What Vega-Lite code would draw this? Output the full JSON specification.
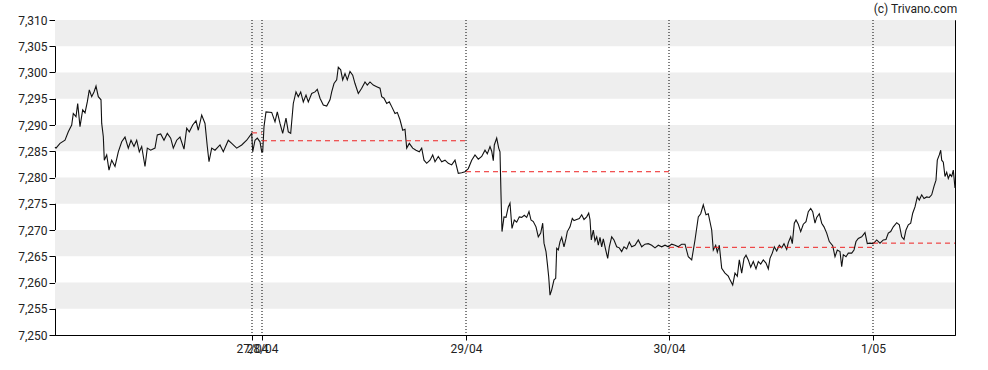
{
  "$schema": "https://vega.github.io/schema/vega-lite/v6.json",
  "width": 900,
  "height": 315,
  "autosize": {"type": "none"},
  "padding": {"left": 55, "top": 20, "right": 33, "bottom": 35},
  "background": "white",
  "config": {
    "view": {"stroke": "#000", "strokeWidth": 1},
    "font": "Roboto",
    "axis": {"labelFont": "Roboto", "labelFontSize": 12, "labelColor": "#222", "tickColor": "#000", "domainColor": "#000", "grid": false}
  },
  "title": {"text": "(c) Trivano.com", "anchor": "end", "fontSize": 12, "fontWeight": "normal", "color": "#222", "font": "Roboto", "offset": -2},
  "datasets": {
    "bands": [
      {"lo": 7305, "hi": 7310}, {"lo": 7295, "hi": 7300}, {"lo": 7285, "hi": 7290},
      {"lo": 7275, "hi": 7280}, {"lo": 7265, "hi": 7270}, {"lo": 7255, "hi": 7260}
    ],
    "days": [{"t": 197}, {"t": 207}, {"t": 411}, {"t": 614}, {"t": 818}],
    "prev": [
      {"t": 197, "t2": 207, "p": 7288.5},
      {"t": 207, "t2": 411, "p": 7287.0},
      {"t": 411, "t2": 614, "p": 7281.1},
      {"t": 614, "t2": 818, "p": 7266.7},
      {"t": 818, "t2": 900, "p": 7267.5}
    ],
    "price": [
      {"t":0,"p":7285.8},{"t":1,"p":7285.6},{"t":5,"p":7286.5},{"t":10,"p":7287.1},{"t":13.3,"p":7288.7},{"t":16.7,"p":7290},{"t":18.3,"p":7292.2},{"t":21,"p":7291.6},{"t":22.7,"p":7294.1},{"t":25,"p":7289.7},{"t":27.7,"p":7292.9},{"t":30,"p":7292.3},{"t":32.3,"p":7294.4},{"t":34.3,"p":7296.7},{"t":36.7,"p":7295.4},{"t":39,"p":7296.3},{"t":41,"p":7297.4},{"t":43.3,"p":7295.4},{"t":46,"p":7294.8},{"t":46.7,"p":7290.3},{"t":48.3,"p":7287.8},{"t":49.3,"p":7283.3},{"t":51.7,"p":7284.3},{"t":54,"p":7281.4},{"t":56.7,"p":7283.3},{"t":60,"p":7282.1},{"t":63.3,"p":7284.9},{"t":66.7,"p":7286.8},{"t":70,"p":7287.7},{"t":73.3,"p":7285.6},{"t":76,"p":7287.1},{"t":79,"p":7285.9},{"t":81.7,"p":7287.1},{"t":84.3,"p":7284.9},{"t":86.7,"p":7285.9},{"t":90,"p":7282.1},{"t":92.3,"p":7285.6},{"t":95.7,"p":7285.2},{"t":100,"p":7285.6},{"t":102.3,"p":7288.1},{"t":105.7,"p":7288.3},{"t":109,"p":7287.1},{"t":112.3,"p":7288.4},{"t":115.7,"p":7287.5},{"t":118.3,"p":7285.6},{"t":121.7,"p":7287.1},{"t":125,"p":7287.7},{"t":129,"p":7285.4},{"t":131.7,"p":7289.4},{"t":134.3,"p":7288.7},{"t":137.7,"p":7290},{"t":141,"p":7290.8},{"t":143.3,"p":7289},{"t":146.7,"p":7291.9},{"t":150,"p":7290.3},{"t":152.3,"p":7285.9},{"t":154,"p":7283},{"t":156.7,"p":7285.6},{"t":160,"p":7285.2},{"t":165,"p":7286.2},{"t":168.3,"p":7284.9},{"t":173.3,"p":7287.1},{"t":176.7,"p":7286.5},{"t":181.7,"p":7285.6},{"t":186.7,"p":7286.2},{"t":191.7,"p":7287.1},{"t":196.7,"p":7288.4},{"t":197.7,"p":7284.9},{"t":200,"p":7287.1},{"t":202.3,"p":7287.5},{"t":205,"p":7286.8},{"t":206.7,"p":7284.9},{"t":207.7,"p":7284.9},{"t":209,"p":7289.7},{"t":211,"p":7292.5},{"t":216.7,"p":7292.4},{"t":220,"p":7290.6},{"t":222.3,"p":7292.5},{"t":225,"p":7290.3},{"t":227.7,"p":7288.4},{"t":231,"p":7291.3},{"t":233.3,"p":7288.7},{"t":235.7,"p":7288.4},{"t":238.3,"p":7294.1},{"t":241,"p":7296.3},{"t":243.3,"p":7295.4},{"t":245.7,"p":7296.3},{"t":248.3,"p":7294.4},{"t":251,"p":7295.7},{"t":253.3,"p":7294.4},{"t":256.7,"p":7296},{"t":260,"p":7296.3},{"t":262.3,"p":7296.8},{"t":265,"p":7295.1},{"t":268.3,"p":7293.8},{"t":271.7,"p":7293.6},{"t":275,"p":7294.8},{"t":276.7,"p":7296.3},{"t":279,"p":7297.9},{"t":281.7,"p":7298.6},{"t":283.3,"p":7301},{"t":285.7,"p":7300.5},{"t":287.7,"p":7298.6},{"t":290,"p":7299.8},{"t":292.3,"p":7298.6},{"t":295,"p":7300.2},{"t":297.7,"p":7299.5},{"t":300,"p":7297.9},{"t":303.3,"p":7296},{"t":306.7,"p":7297},{"t":310,"p":7298.2},{"t":312.3,"p":7297.6},{"t":315,"p":7298.2},{"t":318.3,"p":7297.6},{"t":321.7,"p":7297.3},{"t":325,"p":7297},{"t":326.7,"p":7295.4},{"t":329,"p":7295.1},{"t":331.7,"p":7294.1},{"t":334.3,"p":7294.4},{"t":336.7,"p":7293.5},{"t":340,"p":7292.2},{"t":342.3,"p":7292.4},{"t":345,"p":7291},{"t":347.7,"p":7289},{"t":350,"p":7289.2},{"t":351.7,"p":7285.6},{"t":354.3,"p":7286.5},{"t":357.7,"p":7285.6},{"t":361,"p":7285.2},{"t":364.3,"p":7284.9},{"t":366.7,"p":7285.6},{"t":369,"p":7283.3},{"t":371.7,"p":7282.7},{"t":375,"p":7283.3},{"t":377.7,"p":7284.3},{"t":380,"p":7283},{"t":383.3,"p":7284},{"t":386.7,"p":7283},{"t":390,"p":7283.3},{"t":393.3,"p":7282.7},{"t":396.7,"p":7282.4},{"t":400,"p":7283.3},{"t":403.3,"p":7280.8},{"t":406.7,"p":7280.9},{"t":410,"p":7281.1},{"t":413.3,"p":7281.7},{"t":416.7,"p":7283.3},{"t":420,"p":7284.3},{"t":423.3,"p":7283.5},{"t":426.7,"p":7284},{"t":430,"p":7285.2},{"t":432.3,"p":7284.5},{"t":435,"p":7285.9},{"t":436.7,"p":7285},{"t":438.3,"p":7283.2},{"t":439.3,"p":7286.2},{"t":441.7,"p":7287.5},{"t":443.7,"p":7285.6},{"t":445,"p":7284.9},{"t":446,"p":7276.7},{"t":447,"p":7269.7},{"t":449,"p":7272.5},{"t":451,"p":7272.4},{"t":453.3,"p":7274.4},{"t":455,"p":7275.1},{"t":457,"p":7270.3},{"t":459.3,"p":7271.9},{"t":461.7,"p":7271.5},{"t":464.3,"p":7272.5},{"t":466.7,"p":7272.4},{"t":469.3,"p":7272.8},{"t":471.7,"p":7272.4},{"t":474,"p":7273.5},{"t":476,"p":7271.9},{"t":478.3,"p":7271.6},{"t":481,"p":7270.6},{"t":483.3,"p":7268.7},{"t":485.7,"p":7269.4},{"t":487.7,"p":7271.3},{"t":489,"p":7267.5},{"t":491,"p":7265.9},{"t":492.3,"p":7263.7},{"t":493.7,"p":7261.1},{"t":495,"p":7257.6},{"t":496.7,"p":7258.6},{"t":499,"p":7260.5},{"t":500.7,"p":7260.8},{"t":501.7,"p":7266.5},{"t":503.3,"p":7266.2},{"t":505,"p":7267.8},{"t":506.7,"p":7268.6},{"t":509,"p":7266.8},{"t":511,"p":7268.4},{"t":512.3,"p":7269.7},{"t":515,"p":7270.6},{"t":517.3,"p":7272.2},{"t":519,"p":7271.8},{"t":521.7,"p":7272},{"t":524.3,"p":7272.2},{"t":526.7,"p":7272.9},{"t":529,"p":7272},{"t":531.7,"p":7272.5},{"t":533.7,"p":7273.2},{"t":535,"p":7272},{"t":536.3,"p":7268.1},{"t":538.3,"p":7270},{"t":540,"p":7267.9},{"t":541.7,"p":7268.7},{"t":543.3,"p":7267.1},{"t":545,"p":7268.6},{"t":546.7,"p":7266.8},{"t":548.3,"p":7268.3},{"t":550.7,"p":7266.2},{"t":552.7,"p":7264.6},{"t":554.3,"p":7266.8},{"t":556.7,"p":7268.7},{"t":559,"p":7268.1},{"t":561.7,"p":7266.8},{"t":564.3,"p":7266.6},{"t":566.7,"p":7265.9},{"t":569,"p":7266.8},{"t":571.7,"p":7266.4},{"t":574.3,"p":7267.7},{"t":576.7,"p":7266.8},{"t":580,"p":7267.1},{"t":583.3,"p":7268.1},{"t":586.7,"p":7266.8},{"t":590,"p":7267.3},{"t":593.3,"p":7267.4},{"t":596.7,"p":7267.1},{"t":600,"p":7266.6},{"t":603.3,"p":7267.1},{"t":606.7,"p":7266.8},{"t":610,"p":7267.1},{"t":613.3,"p":7266.8},{"t":616.7,"p":7267.3},{"t":620,"p":7267.1},{"t":623.3,"p":7266.8},{"t":626.7,"p":7267.3},{"t":630,"p":7267.3},{"t":633.3,"p":7264.9},{"t":636.7,"p":7264.3},{"t":640,"p":7268.1},{"t":643.3,"p":7272.5},{"t":645.7,"p":7273.1},{"t":648.3,"p":7274.8},{"t":651,"p":7272.9},{"t":653.3,"p":7273.1},{"t":656.7,"p":7270},{"t":658.3,"p":7266.2},{"t":660.7,"p":7267.1},{"t":662.3,"p":7265.8},{"t":664.3,"p":7267.1},{"t":666.7,"p":7262.7},{"t":670,"p":7261.8},{"t":673.3,"p":7261.2},{"t":675,"p":7260.5},{"t":677.7,"p":7259.5},{"t":680,"p":7261.8},{"t":682.3,"p":7261.2},{"t":684.3,"p":7264.3},{"t":686.7,"p":7261.8},{"t":689,"p":7264.6},{"t":691,"p":7265.2},{"t":693.3,"p":7264.3},{"t":695.7,"p":7262.9},{"t":698.3,"p":7264},{"t":701,"p":7262.6},{"t":703.3,"p":7264},{"t":705.7,"p":7263.5},{"t":708.3,"p":7264.3},{"t":711,"p":7263.7},{"t":713.3,"p":7262.6},{"t":715,"p":7264.6},{"t":717.3,"p":7265.6},{"t":719.3,"p":7266.8},{"t":721.7,"p":7266},{"t":724.3,"p":7267.1},{"t":726.7,"p":7266.6},{"t":729,"p":7267.4},{"t":731.7,"p":7266.3},{"t":733.3,"p":7267.6},{"t":735.7,"p":7268.7},{"t":737.3,"p":7267.4},{"t":739.3,"p":7271.3},{"t":741,"p":7271.9},{"t":743.3,"p":7271.1},{"t":745.7,"p":7269.7},{"t":748.3,"p":7271.1},{"t":751,"p":7271.6},{"t":753.3,"p":7273.5},{"t":755.7,"p":7274.1},{"t":757.7,"p":7273.5},{"t":760,"p":7271.3},{"t":761.7,"p":7272.4},{"t":764.3,"p":7273.1},{"t":766.7,"p":7271.3},{"t":769,"p":7270.6},{"t":771.7,"p":7269.4},{"t":774.3,"p":7267.8},{"t":777.7,"p":7267},{"t":780,"p":7264.9},{"t":782.3,"p":7266.2},{"t":785,"p":7265.9},{"t":786.7,"p":7263},{"t":788.3,"p":7265.3},{"t":791,"p":7264.9},{"t":793.3,"p":7265.6},{"t":796.7,"p":7265.6},{"t":799,"p":7266.2},{"t":801,"p":7267.8},{"t":803.3,"p":7268.4},{"t":806.7,"p":7268.7},{"t":810,"p":7269.5},{"t":812.3,"p":7267.4},{"t":815,"p":7267.5},{"t":818.3,"p":7267.4},{"t":821.7,"p":7268.1},{"t":825,"p":7267.5},{"t":828.3,"p":7268.1},{"t":831,"p":7268.2},{"t":833.3,"p":7269.4},{"t":835.7,"p":7269.7},{"t":838.3,"p":7270.6},{"t":841.7,"p":7271.4},{"t":844.3,"p":7271},{"t":846.7,"p":7268.7},{"t":849,"p":7268.2},{"t":851,"p":7270},{"t":853.3,"p":7271},{"t":855.7,"p":7271.3},{"t":857.7,"p":7273.2},{"t":860,"p":7274.4},{"t":862.3,"p":7276.3},{"t":864.3,"p":7275.7},{"t":866.7,"p":7276.7},{"t":869,"p":7276},{"t":871.7,"p":7276.3},{"t":874.3,"p":7276.2},{"t":876.7,"p":7276.7},{"t":879,"p":7278.3},{"t":881,"p":7279.5},{"t":882.3,"p":7283.3},{"t":884.3,"p":7284.3},{"t":885.7,"p":7285.2},{"t":886.7,"p":7283.3},{"t":888.3,"p":7282.9},{"t":890,"p":7280.2},{"t":891.7,"p":7281},{"t":893.3,"p":7279.8},{"t":895,"p":7280.6},{"t":896.7,"p":7280.2},{"t":898.3,"p":7281.4},{"t":900,"p":7278}
    ]
  },
  "layer": [
    {
      "data": {"name": "bands"},
      "mark": {"type": "rect", "fill": "#eeeeee"},
      "encoding": {
        "y": {"field": "lo", "type": "quantitative", "scale": {"domain": [7250, 7310], "nice": false, "zero": false},
          "axis": {"values": [7250, 7255, 7260, 7265, 7270, 7275, 7280, 7285, 7290, 7295, 7300, 7305, 7310], "format": ",d", "tickSize": 6, "labelPadding": 2, "labelOverlap": false, "title": null}},
        "y2": {"field": "hi"}
      }
    },
    {
      "data": {"name": "days"},
      "mark": {"type": "rule", "color": "#000", "strokeWidth": 1, "strokeDash": [1, 2]},
      "encoding": {
        "x": {"field": "t", "type": "quantitative", "scale": {"domain": [0, 900], "nice": false, "zero": false},
          "axis": {"values": [197, 207, 411, 614, 818], "labelExpr": "datum.value == 197 ? '27/04' : datum.value == 207 ? '28/04' : datum.value == 411 ? '29/04' : datum.value == 614 ? '30/04' : '1/05'", "labelOverlap": false, "tickSize": 5, "labelPadding": 3, "labelFlush": false, "title": null}}
      }
    },
    {
      "data": {"name": "price"},
      "mark": {"type": "line", "color": "#111", "strokeWidth": 1.1},
      "encoding": {
        "x": {"field": "t", "type": "quantitative",
          "axis": {"values": [197, 207, 411, 614, 818], "labelExpr": "datum.value == 197 ? '27/04' : datum.value == 207 ? '28/04' : datum.value == 411 ? '29/04' : datum.value == 614 ? '30/04' : '1/05'", "labelOverlap": false, "tickSize": 5, "labelPadding": 3, "labelFlush": false, "title": null}},
        "y": {"field": "p", "type": "quantitative",
          "axis": {"values": [7250, 7255, 7260, 7265, 7270, 7275, 7280, 7285, 7290, 7295, 7300, 7305, 7310], "format": ",d", "tickSize": 6, "labelPadding": 2, "labelOverlap": false, "title": null}}
      }
    },
    {
      "data": {"name": "prev"},
      "mark": {"type": "rule", "color": "#ee2222", "strokeWidth": 1, "strokeDash": [5, 4]},
      "encoding": {
        "x": {"field": "t", "type": "quantitative",
          "axis": {"values": [197, 207, 411, 614, 818], "labelExpr": "datum.value == 197 ? '27/04' : datum.value == 207 ? '28/04' : datum.value == 411 ? '29/04' : datum.value == 614 ? '30/04' : '1/05'", "labelOverlap": false, "tickSize": 5, "labelPadding": 3, "labelFlush": false, "title": null}},
        "x2": {"field": "t2"},
        "y": {"field": "p", "type": "quantitative",
          "axis": {"values": [7250, 7255, 7260, 7265, 7270, 7275, 7280, 7285, 7290, 7295, 7300, 7305, 7310], "format": ",d", "tickSize": 6, "labelPadding": 2, "labelOverlap": false, "title": null}}
      }
    }
  ]
}
